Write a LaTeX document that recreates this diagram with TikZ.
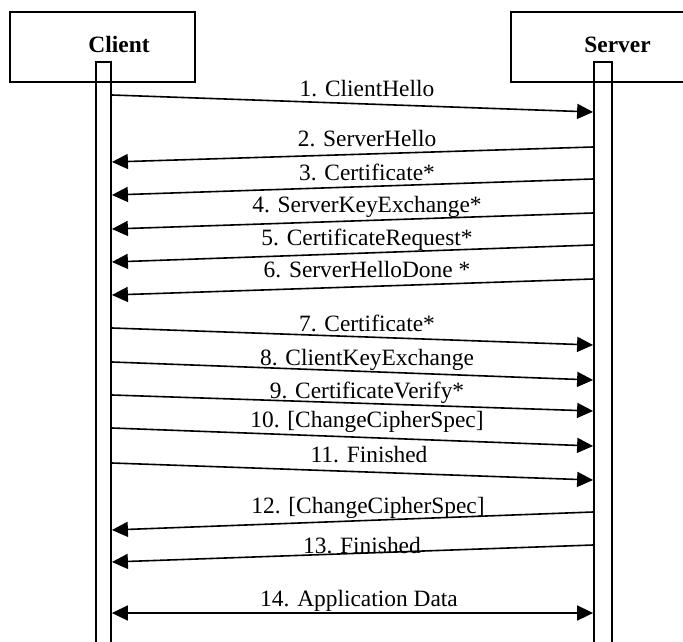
\documentclass[tikz,border=0pt]{standalone}
\usepackage{fontspec}
\setmainfont{Liberation Serif}
\usetikzlibrary{arrows.meta}

\begin{document}
\begin{tikzpicture}[x=0.5pt, y=-0.5pt,
    every node/.style={font=\fontsize{11.7pt}{14pt}\selectfont},
    party/.style={draw, line width=0.9pt, rectangle, minimum width=92.5pt, minimum height=35pt, inner sep=0pt},
    lifeline/.style={draw, line width=0.9pt, rectangle, minimum height=300pt, inner sep=0pt},
    msg/.style={line width=0.8pt, -{Triangle[length=8pt, width=7.5pt]}},
    both/.style={line width=0.8pt, {Triangle[length=8pt, width=7.5pt]}-{Triangle[length=8pt, width=7.5pt]}},
    lbl/.style={anchor=base, inner sep=0pt}]
    \path[use as bounding box, clip] (0,0) rectangle (683,641);
    % the two parties
    \draw (102.5,47) node[party](cbox){};
    \draw (605.5,47) node[party, minimum width=94.5pt](sbox){};
    \draw (119,53) node[lbl, font=\fontsize{11.7pt}{14pt}\selectfont\bfseries](cname){Client};
    \draw (617.5,53) node[lbl, font=\fontsize{11.7pt}{14pt}\selectfont\bfseries](sname){Server};
    \draw (103.5,362) node[lifeline, minimum width=7.5pt](cbar){};
    \draw (603,362) node[lifeline, minimum width=9pt](sbar){};
    % hello phase
    \draw (367,97) node[lbl](m1){1. ClientHello};
    \draw[msg] (cbar.east |- 0,95) -- (sbar.west |- 0,112);
    \draw (367,147) node[lbl](m2){2. ServerHello};
    \draw[msg] (sbar.west |- 0,147) -- (cbar.east |- 0,162);
    \draw (367,181) node[lbl](m3){3. Certificate*};
    \draw[msg] (sbar.west |- 0,179) -- (cbar.east |- 0,195);
    \draw (367,213) node[lbl](m4){4. ServerKeyExchange*};
    \draw[msg] (sbar.west |- 0,213) -- (cbar.east |- 0,229);
    \draw (367,245) node[lbl](m5){5. CertificateRequest*};
    \draw[msg] (sbar.west |- 0,245) -- (cbar.east |- 0,262);
    \draw (367,278) node[lbl](m6){6. ServerHelloDone *};
    \draw[msg] (sbar.west |- 0,279) -- (cbar.east |- 0,295);
    % key exchange
    \draw (367,331) node[lbl](m7){7. Certificate*};
    \draw[msg] (cbar.east |- 0,328) -- (sbar.west |- 0,345);
    \draw (367,365) node[lbl](m8){8. ClientKeyExchange};
    \draw[msg] (cbar.east |- 0,362) -- (sbar.west |- 0,380);
    \draw (367,398) node[lbl](m9){9. CertificateVerify*};
    \draw[msg] (cbar.east |- 0,395) -- (sbar.west |- 0,411);
    \draw (367,427) node[lbl](m10){10. [ChangeCipherSpec]};
    \draw[msg] (cbar.east |- 0,428) -- (sbar.west |- 0,446);
    \draw (369,462) node[lbl](m11){11. Finished};
    \draw[msg] (cbar.east |- 0,463) -- (sbar.west |- 0,480);
    % server finishes
    \draw (368,513) node[lbl](m12){12. [ChangeCipherSpec]};
    \draw[msg] (sbar.west |- 0,512) -- (cbar.east |- 0,530);
    \draw (362,553) node[lbl](m13){13. Finished};
    \draw[msg] (sbar.west |- 0,545) -- (cbar.east |- 0,562);
    \draw (359,606) node[lbl](m14){14. Application Data};
    \draw[both] (cbar.east |- 0,613) -- (sbar.west |- 0,613);
\end{tikzpicture}
\end{document}
